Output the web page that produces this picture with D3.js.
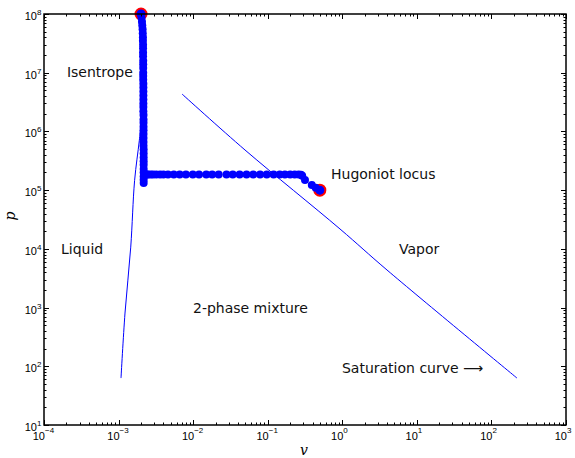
<!DOCTYPE html>
<html>
<head>
<meta charset="utf-8">
<script src="https://cdn.jsdelivr.net/npm/d3@7"></script>
<style>
  body { margin: 0; background: #fff; }
  svg { display: block; }
</style>
</head>
<body>
<div id="chart"></div>
<script>
    const svgWidth = 575
    const svgHeight = 458

    // saturation curve, liquid branch (v, p)
    const liquidV = [1.078e-3, 1.22e-3, 1.456e-3, 1.64e-3, 1.90e-3, 2.06e-3]
    const liquidP = [63, 807, 1.07e4, 1.45e5, 7.1e5, 1.9e6]

    // saturation curve, vapor branch (v, p)
    const vaporV = [7.09e-3, 0.0496, 0.932, 3.98, 220]
    const vaporP = [4.34e6, 4.83e5, 2.18e4, 4.36e3, 63]

    // Hugoniot locus points (v, p)
    const hugV = [
        2.0e-3, 2.03e-3, 2.06e-3, 2.08e-3, 2.10e-3, 2.11e-3, 2.12e-3, 2.12e-3, 2.13e-3, 2.13e-3,
        2.13e-3, 2.13e-3, 2.14e-3, 2.14e-3, 2.14e-3, 2.14e-3, 2.14e-3, 2.14e-3, 2.15e-3, 2.15e-3,
        2.15e-3, 2.15e-3, 2.15e-3, 2.15e-3, 2.15e-3, 2.15e-3, 2.16e-3, 2.16e-3, 2.16e-3, 2.16e-3,
        2.16e-3, 2.16e-3, 2.16e-3, 2.16e-3, 2.16e-3, 2.17e-3, 2.17e-3, 2.17e-3, 2.17e-3, 2.17e-3,
        2.17e-3, 2.17e-3, 2.17e-3, 2.17e-3, 2.17e-3,
        2.2e-3, 2.25e-3, 2.3e-3, 2.4e-3, 2.5e-3, 2.7e-3, 2.9e-3, 3.2e-3, 3.6e-3, 4.0e-3,
        4.6e-3, 5.5e-3, 6.6e-3, 8.0e-3, 9.9e-3, 0.012, 0.015, 0.018, 0.022, 0.028,
        0.034, 0.042, 0.052, 0.064, 0.079, 0.097, 0.12, 0.145, 0.17, 0.2,
        0.23, 0.26, 0.28, 0.29, 0.316, 0.39, 0.44, 0.5
    ]
    const hugP = [
        1.0e8, 8.6e7, 7.4e7, 6.4e7, 5.5e7, 4.7e7, 4.0e7, 3.5e7, 3.0e7, 2.6e7,
        2.2e7, 1.9e7, 1.6e7, 1.4e7, 1.2e7, 1.0e7, 8.8e6, 7.6e6, 6.5e6, 5.6e6,
        4.8e6, 4.1e6, 3.5e6, 3.0e6, 2.6e6, 2.2e6, 1.9e6, 1.6e6, 1.4e6, 1.2e6,
        1.05e6, 9.0e5, 7.7e5, 6.6e5, 5.7e5, 4.9e5, 4.2e5, 3.6e5, 3.1e5, 2.7e5,
        2.3e5, 2.0e5, 1.7e5, 1.5e5, 1.32e5,
        1.85e5, 1.85e5, 1.85e5, 1.85e5, 1.85e5, 1.85e5, 1.85e5, 1.85e5, 1.85e5, 1.85e5,
        1.85e5, 1.85e5, 1.85e5, 1.85e5, 1.85e5, 1.85e5, 1.85e5, 1.85e5, 1.85e5, 1.85e5,
        1.85e5, 1.85e5, 1.85e5, 1.85e5, 1.85e5, 1.85e5, 1.85e5, 1.85e5, 1.85e5, 1.85e5,
        1.85e5, 1.85e5, 1.83e5, 1.75e5, 1.49e5, 1.22e5, 1.1e5, 1.0e5
    ]

    // text annotations (left end at v, baseline at p)
    const labelText = ["Isentrope", "Hugoniot locus", "Liquid", "Vapor", "2-phase mixture", "Saturation curve \u27F6"]
    const labelV = [2.03e-4, 0.706, 1.69e-4, 5.77, 9.95e-3, 0.99]
    const labelP = [8.45e6, 1.55e5, 8.3e3, 8.3e3, 807, 76.7]

    const xTickExp = [-4, -3, -2, -1, 0, 1, 2, 3]
    const yTickExp = [1, 2, 3, 4, 5, 6, 7, 8]

    const plotLeft = 44, plotRight = 566, plotTop = 14, plotBottom = 425

    const x = d3.scaleLog().domain([1e-4, 1e3]).range([plotLeft, plotRight])
    const y = d3.scaleLog().domain([1e1, 1e8]).range([plotBottom, plotTop])

    const svg = d3.select("#chart")
        .append("svg")
        .attr("width", svgWidth)
        .attr("height", svgHeight)

    svg.append("rect")
        .attr("width", svgWidth)
        .attr("height", svgHeight)
        .attr("fill", "white")

    const plot = svg.append("g")

    // saturation curve
    const line = d3.line()
        .x(d => x(d[0]))
        .y(d => y(d[1]))
        .curve(d3.curveCatmullRom)

    plot.append("path")
        .attr("d", line(d3.zip(liquidV, liquidP)))
        .style("stroke", "#0000ff")
        .style("stroke-width", 1)
        .style("fill", "none")

    plot.append("path")
        .attr("d", line(d3.zip(vaporV, vaporP)))
        .style("stroke", "#0000ff")
        .style("stroke-width", 1)
        .style("fill", "none")

    // end points of the Hugoniot locus
    const n = hugV.length
    plot.selectAll(".endpt")
        .data([0, n - 1])
        .enter()
        .append("circle")
        .attr("cx", i => x(hugV[i]))
        .attr("cy", i => y(hugP[i]))
        .attr("r", 5.5)
        .attr("fill", "#0000ff")
        .attr("stroke", "#ff0000")
        .attr("stroke-width", 2)

    plot.selectAll(".hug")
        .data(d3.zip(hugV, hugP))
        .enter()
        .append("circle")
        .attr("cx", d => x(d[0]))
        .attr("cy", d => y(d[1]))
        .attr("r", 4)
        .attr("fill", "#0000ff")

    // ticks on all four sides, pointing inward
    const axes = svg.append("g")
        .attr("stroke", "black")
        .attr("stroke-width", 1)

    x.ticks().forEach(t => {
        const major = Math.abs(Math.log10(t) - Math.round(Math.log10(t))) < 1e-9
        const len = major ? 5 : 2.5
        const px = Math.round(x(t)) + 0.5
        axes.append("line").attr("x1", px).attr("x2", px).attr("y1", plotBottom).attr("y2", plotBottom - len)
        axes.append("line").attr("x1", px).attr("x2", px).attr("y1", plotTop).attr("y2", plotTop + len)
    })

    y.ticks().forEach(t => {
        const major = Math.abs(Math.log10(t) - Math.round(Math.log10(t))) < 1e-9
        const len = major ? 5 : 2.5
        const py = Math.round(y(t)) + 0.5
        axes.append("line").attr("y1", py).attr("y2", py).attr("x1", plotLeft).attr("x2", plotLeft + len)
        axes.append("line").attr("y1", py).attr("y2", py).attr("x1", plotRight).attr("x2", plotRight - len)
    })

    axes.append("rect")
        .attr("x", plotLeft).attr("y", plotTop)
        .attr("width", plotRight - plotLeft).attr("height", plotBottom - plotTop)
        .attr("fill", "none")
        .attr("stroke-width", 1.5)

    // tick labels: "10" ends at the tick, exponent follows
    const tickFont = "Liberation Sans, Arial, sans-serif"

    xTickExp.forEach(e => {
        const tx = x(Math.pow(10, e)) + 1
        svg.append("text")
            .attr("x", tx)
            .attr("y", 440)
            .attr("text-anchor", "end")
            .style("font-family", tickFont)
            .style("font-size", "11px")
            .text("10")
        svg.append("text")
            .attr("x", tx)
            .attr("y", 433)
            .style("font-family", tickFont)
            .style("font-size", "8px")
            .text(e < 0 ? "\u2212" + (-e) : e)
    })

    yTickExp.forEach(e => {
        const ty = y(Math.pow(10, e))
        svg.append("text")
            .attr("x", 37)
            .attr("y", ty + 6)
            .attr("text-anchor", "end")
            .style("font-family", tickFont)
            .style("font-size", "11px")
            .text("10")
        svg.append("text")
            .attr("x", 37)
            .attr("y", ty + 1)
            .style("font-family", tickFont)
            .style("font-size", "8px")
            .text(e)
    })

    // axis labels
    svg.append("text")
        .attr("x", 304)
        .attr("y", 455)
        .attr("text-anchor", "middle")
        .style("font-family", "DejaVu Serif, serif")
        .style("font-style", "italic")
        .style("font-size", "14px")
        .text("v")

    svg.append("text")
        .attr("transform", "translate(15,216) rotate(-90)")
        .attr("text-anchor", "middle")
        .style("font-family", "DejaVu Serif, serif")
        .style("font-style", "italic")
        .style("font-size", "14px")
        .text("p")

    // annotations
    svg.selectAll(".note")
        .data(labelText)
        .enter()
        .append("text")
        .attr("x", (d, i) => x(labelV[i]))
        .attr("y", (d, i) => y(labelP[i]))
        .style("font-family", "DejaVu Sans, sans-serif")
        .style("font-size", "14px")
        .style("fill", "#111")
        .text(d => d)
</script>
</body>
</html>
